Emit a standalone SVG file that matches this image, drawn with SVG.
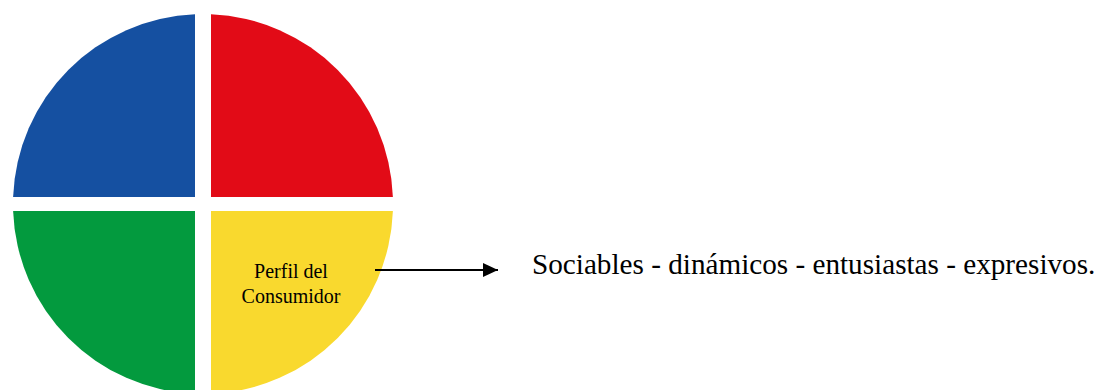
<svg xmlns="http://www.w3.org/2000/svg" width="1103" height="390" viewBox="0 0 1103 390">
<style>
.lbl{font-family:"Liberation Serif","Times New Roman",serif;fill:#000}
.conn{stroke:#000;stroke-width:2.2;fill:none}
</style>
<defs>
<marker id="ah" markerWidth="15" markerHeight="14" refX="15" refY="7" orient="auto" markerUnits="userSpaceOnUse">
<polygon points="0,0 15,7 0,14" fill="#000"/>
</marker>
</defs>
<rect width="1103" height="390" fill="#fff"/>
<g id="q-blue"><path d="M195,197 L195,14.2 A190,190 0 0 0 13.1,197 Z" fill="#1550A1"/></g>
<g id="q-red"><path d="M211,197 L211,14.2 A190,190 0 0 1 392.9,197 Z" fill="#E20B17"/></g>
<g id="q-green"><path d="M195,211 L13.1,211 A190,190 0 0 0 195,393.8 Z" fill="#039A3E"/></g>
<g id="q-yellow"><path d="M211,211 L392.9,211 A190,190 0 0 1 211,393.8 Z" fill="#F9D92E"/>
<text class="lbl" x="291" y="278" font-size="20" text-anchor="middle" fill="#2a2200">Perfil del</text>
<text class="lbl" x="291" y="303" font-size="20" text-anchor="middle" fill="#2a2200">Consumidor</text>
</g>
<g id="connectors"><line class="conn" x1="375" y1="270" x2="498" y2="270" marker-end="url(#ah)"/></g>
<g id="desc"><text class="lbl" x="532" y="274" font-size="29.2">Sociables - dinámicos - entusiastas - expresivos.</text></g>
</svg>
